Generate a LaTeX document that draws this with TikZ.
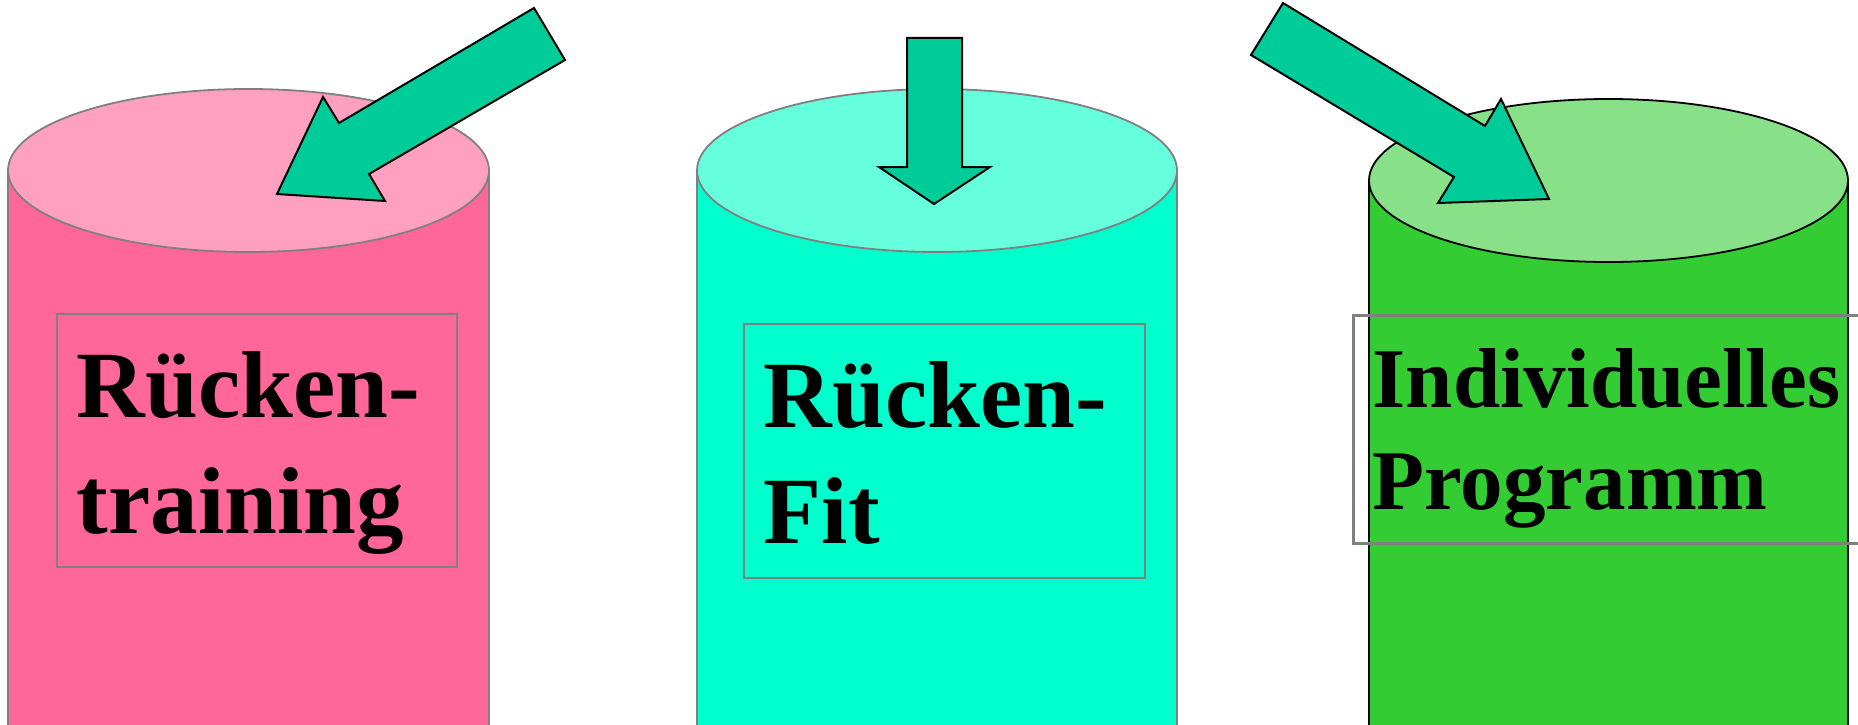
\documentclass[tikz,border=0pt]{standalone}
\usepackage{fontspec}
\setmainfont{Liberation Serif}
\definecolor{pinkside}{HTML}{FF6699}
\definecolor{pinktop}{HTML}{FFA0C0}
\definecolor{cyanside}{HTML}{00FFCC}
\definecolor{cyantop}{HTML}{66FFDD}
\definecolor{greenside}{HTML}{33CC33}
\definecolor{greentop}{HTML}{88E088}
\definecolor{arrowc}{HTML}{00CC99}
\definecolor{grayc}{HTML}{808080}
\begin{document}
\begin{tikzpicture}[x=1pt,y=-1pt,
  cylline/.style={line width=1.8pt},
  fatarrow/.style={fill=arrowc, draw=black, line width=2pt, line join=miter},
  lbox/.style={draw=grayc, line width=2pt, inner sep=0pt, rectangle},
  ltext/.style={anchor=base west, inner sep=0pt, align=left},
  bigfont/.style={font=\bfseries\fontsize{95pt}{116pt}\selectfont},
  midfont/.style={font=\bfseries\fontsize{85pt}{102pt}\selectfont}]
\useasboundingbox (0,0) rectangle (1858,725);
\clip (0,0) rectangle (1858,725);

% cylinder 1 (pink)
\fill[pinkside] (8,170.5) rectangle (489,740);
\draw[grayc,cylline] (8,170.5) -- (8,740) (489,170.5) -- (489,740);
\draw[grayc,cylline,fill=pinktop] (248.5,170.5) ellipse [x radius=240.5pt, y radius=81.5pt];

% cylinder 2 (cyan)
\fill[cyanside] (697,170.5) rectangle (1177,740);
\draw[grayc,cylline] (697,170.5) -- (697,740) (1177,170.5) -- (1177,740);
\draw[grayc,cylline,fill=cyantop] (937,170.5) ellipse [x radius=240pt, y radius=81.5pt];

% cylinder 3 (green)
\fill[greenside] (1369,180.5) rectangle (1848,740);
\draw[black,cylline] (1369,180.5) -- (1369,740) (1848,180.5) -- (1848,740);
\draw[black,cylline,fill=greentop] (1608.5,180.5) ellipse [x radius=239.5pt, y radius=81.5pt];

% label boxes
\node[lbox, minimum width=400pt, minimum height=253pt] (b1) at (257,440.5) {};
\node[ltext, bigfont] (t1) at (76.5,417) {\begin{tabular}[t]{@{}l@{}}Rücken-\\training\end{tabular}};

\node[lbox, minimum width=401pt, minimum height=254pt] (b2) at (944.5,451) {};
\node[ltext, bigfont] (t2) at (763.5,427) {\begin{tabular}[t]{@{}l@{}}Rücken-\\Fit\end{tabular}};

\node[lbox, line width=3pt, minimum width=547pt, minimum height=228pt] (b3) at (1626.5,429) {};
\node[ltext, midfont] (t3) at (1372.5,407) {\begin{tabular}[t]{@{}l@{}}Individuelles\\Programm\end{tabular}};

% block arrows
\filldraw[fatarrow] (534,8) -- (565,60) -- (369,174) -- (385,201) -- (277,194) -- (323,97) -- (339,123) -- cycle;
\filldraw[fatarrow] (907,38) -- (962,38) -- (962,167) -- (990,167) -- (934,204) -- (879,167) -- (907,167) -- cycle;
\filldraw[fatarrow] (1283,3) -- (1251,55) -- (1454,177) -- (1438,203) -- (1549,199) -- (1501,99) -- (1485,126) -- cycle;
\end{tikzpicture}
\end{document}
